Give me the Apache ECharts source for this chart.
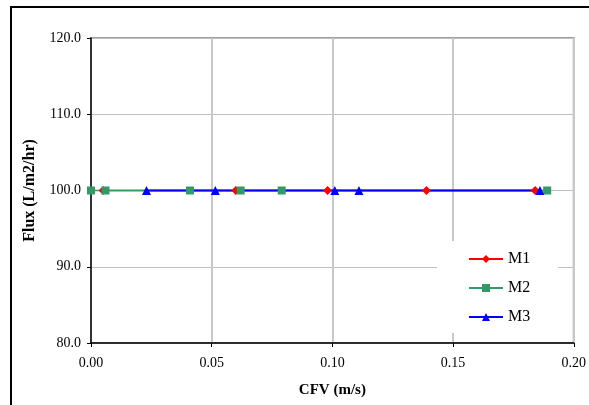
<!DOCTYPE html>
<html>
<head>
<meta charset="utf-8">
<script src="https://cdn.jsdelivr.net/npm/echarts@6/dist/echarts.min.js"></script>
<style>
  html, body { margin: 0; padding: 0; background: #fff; }
  #chart { width: 589px; height: 405px; }
</style>
</head>
<body>
<div id="chart"></div>
<script>
var seriesNames = ['M1', 'M2', 'M3'];
var m1Cfv = [0.005, 0.060, 0.098, 0.139, 0.184];
var m1Flux = [100.0, 100.0, 100.0, 100.0, 100.0];
var m2Cfv = [0.000, 0.006, 0.041, 0.062, 0.079, 0.189];
var m2Flux = [100.0, 100.0, 100.0, 100.0, 100.0, 100.0];
var m3Cfv = [0.023, 0.0515, 0.101, 0.111, 0.186];
var m3Flux = [100.0, 100.0, 100.0, 100.0, 100.0];

function pairs(xs, ys) {
  return xs.map(function (x, i) { return [x, ys[i]]; });
}

var serif = 'Liberation Serif';
var myChart = echarts.init(document.getElementById('chart'));

var option = {
  animation: false,
  textStyle: { fontFamily: serif },
  graphic: [{
    type: 'rect',
    shape: { x: 11, y: 7, width: 620, height: 430 },
    style: { fill: 'none', stroke: '#000', lineWidth: 2 },
    z: 100
  }],
  grid: {
    left: 91, right: 13, top: 38, bottom: 62,
    show: true, borderColor: '#a0a0a0', borderWidth: 2,
    backgroundColor: '#fff'
  },
  color: ['#ff0000', '#339966', '#0000ff'],
  legend: {
    data: seriesNames,
    orient: 'vertical',
    left: 437, top: 241,
    padding: [10, 28, 8, 31],
    itemGap: 13,
    itemWidth: 34, itemHeight: 10,
    backgroundColor: '#fff',
    textStyle: { fontFamily: serif, fontSize: 16, color: '#000' }
  },
  xAxis: {
    type: 'value',
    min: 0, max: 0.2, interval: 0.05,
    name: 'CFV (m/s)',
    nameLocation: 'middle',
    nameGap: 40,
    nameTextStyle: { fontFamily: serif, fontSize: 15, fontWeight: 'bold', color: '#000' },
    axisLine: { onZero: false, lineStyle: { color: '#000', width: 1.5 } },
    axisTick: { show: true, length: 4, lineStyle: { color: '#000' } },
    axisLabel: {
      margin: 13, fontSize: 14, color: '#000', fontFamily: serif,
      formatter: function (v) { return v.toFixed(2); }
    },
    splitLine: { show: true, lineStyle: { color: '#c8c8c8', width: 2 } }
  },
  yAxis: {
    type: 'value',
    min: 80, max: 120, interval: 10,
    name: 'Flux (L/m2/hr)',
    nameLocation: 'middle',
    nameGap: 53,
    nameTextStyle: { fontFamily: serif, fontSize: 16, fontWeight: 'bold', color: '#000' },
    axisLine: { show: true, onZero: false, lineStyle: { color: '#000', width: 1.5 } },
    axisTick: { show: true, length: 4, lineStyle: { color: '#000' } },
    axisLabel: {
      margin: 10, fontSize: 14, color: '#000', fontFamily: serif,
      formatter: function (v) { return v.toFixed(1); }
    },
    splitLine: { show: true, lineStyle: { color: '#c0c0c0', width: 1 } }
  },
  series: [
    {
      name: 'M1', type: 'line',
      data: pairs(m1Cfv, m1Flux),
      symbol: 'diamond', symbolSize: 9,
      lineStyle: { width: 1.5 }
    },
    {
      name: 'M2', type: 'line',
      data: pairs(m2Cfv, m2Flux),
      symbol: 'rect', symbolSize: 8,
      lineStyle: { width: 1.5 }
    },
    {
      name: 'M3', type: 'line',
      data: pairs(m3Cfv, m3Flux),
      symbol: 'triangle', symbolSize: 9,
      lineStyle: { width: 2 }
    }
  ]
};

myChart.setOption(option);
</script>
</body>
</html>
